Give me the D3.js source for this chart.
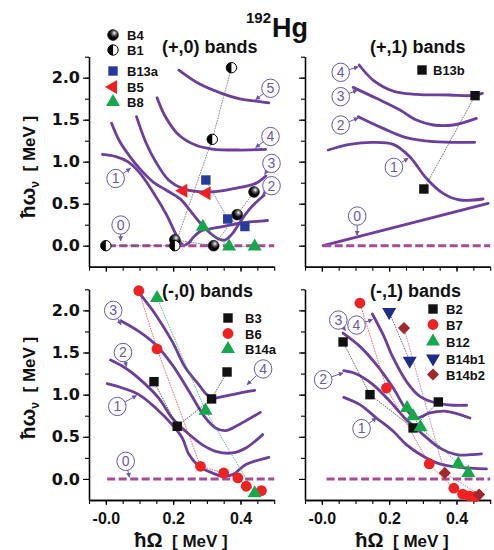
<!DOCTYPE html>
<html>
<head>
<meta charset="utf-8">
<script src="https://cdn.jsdelivr.net/npm/d3@7"></script>
<style>
  body { margin: 0; background: #fff; }
  svg { display: block; font-family: "Liberation Sans", Arial, sans-serif; }
</style>
</head>
<body>
<svg></svg>
<script>
// ---- (+,0) bands
const plus0Curve1 = [[-0.01,1.087],[0.03,1.06],[0.065,1.0],[0.10,0.87],[0.14,0.64],[0.18,0.37],[0.205,0.16],[0.22,0.05],[0.232,0.005],[0.245,0.03],[0.26,0.10],[0.28,0.17],[0.31,0.20],[0.35,0.23],[0.40,0.27],[0.45,0.29],[0.48,0.30]];
const plus0Curve2 = [[0.017,1.457],[0.04,1.25],[0.07,1.07],[0.10,0.92],[0.14,0.76],[0.18,0.66],[0.22,0.56],[0.25,0.42],[0.28,0.27],[0.31,0.15],[0.335,0.08],[0.355,0.07],[0.375,0.14],[0.40,0.29],[0.43,0.45],[0.47,0.60]];
const plus0Curve3 = [[0.091,1.536],[0.118,1.238],[0.148,1.0],[0.187,0.78],[0.227,0.683],[0.276,0.643],[0.326,0.643],[0.385,0.683],[0.445,0.742],[0.475,0.83]];
const plus0Curve4 = [[0.152,1.762],[0.177,1.536],[0.217,1.317],[0.266,1.198],[0.316,1.151],[0.395,1.139],[0.474,1.147]];
const plus0Curve5 = [[0.217,2.09],[0.276,1.93],[0.346,1.81],[0.395,1.75],[0.445,1.72],[0.484,1.70]];
const plus0Labels = [['0',0.044,0.246,0.044,0.06],['1',0.029,0.80,0.073,0.92],['2',0.492,0.714,0.466,0.61],['3',0.492,0.98,0.472,0.85],['4',0.489,1.30,0.445,1.17],['5',0.489,1.874,0.445,1.74]];
const b4 = [[0.205,0.07],[0.32,0.0],[0.39,0.37],[0.44,0.64]];
const b1 = [[0.0,0.0],[0.205,0.0],[0.316,1.266],[0.373,2.119]];
const b13a = [[0.297,0.782],[0.362,0.318],[0.413,0.228]];
const b5 = [[0.23,0.655],[0.299,0.623]];
const b8 = [[0.288,0.226],[0.366,-0.01],[0.442,-0.01]];

// ---- (+,1) bands
const plus1Curve0 = [[0.004,0.0],[0.494,0.504]];
const plus1Curve1 = [[0.019,1.139],[0.083,1.206],[0.152,1.23],[0.212,1.206],[0.261,1.06],[0.311,0.80],[0.36,0.623],[0.41,0.544],[0.479,0.556]];
const plus1Curve2 = [[0.108,1.536],[0.182,1.397],[0.251,1.286],[0.331,1.238],[0.454,1.23]];
const plus1Curve3 = [[0.093,1.885],[0.162,1.754],[0.232,1.615],[0.281,1.496],[0.331,1.437],[0.39,1.437],[0.459,1.516]];
const plus1Curve4 = [[0.111,2.151],[0.152,1.972],[0.212,1.841],[0.281,1.802],[0.38,1.794],[0.44,1.786],[0.477,1.813]];
const plus1Labels = [['0',0.105,0.353,0.105,0.125],['1',0.214,0.933,0.256,1.04],['2',0.056,1.437,0.108,1.52],['3',0.056,1.774,0.105,1.85],['4',0.056,2.064,0.108,2.13]];
const b13b = [[0.303,0.675],[0.455,1.786]];

// ---- (-,0) bands
const minus0Curve1 = [[0.004,1.13],[0.049,1.079],[0.098,1.0],[0.148,0.842],[0.197,0.644],[0.227,0.486],[0.247,0.289],[0.277,0.15],[0.316,0.071],[0.346,0.032],[0.376,0.051],[0.416,0.17],[0.484,0.257]];
const minus0Curve2 = [[0.014,1.411],[0.058,1.316],[0.108,1.158],[0.157,0.96],[0.197,0.723],[0.237,0.565],[0.286,0.407],[0.326,0.328],[0.376,0.308],[0.416,0.368],[0.466,0.526]];
const minus0Curve3 = [[0.044,1.877],[0.098,1.751],[0.148,1.593],[0.197,1.356],[0.247,1.04],[0.296,0.723],[0.326,0.605],[0.355,0.573],[0.395,0.644],[0.459,0.79]];
const minus0Curve4 = [[0.103,2.186],[0.148,1.949],[0.197,1.632],[0.237,1.316],[0.276,1.12],[0.30,1.0],[0.32,0.96],[0.35,0.98],[0.40,1.02],[0.442,1.05]];
const minus0Labels = [['0',0.059,0.209,0.07,0.02],['1',0.034,0.86,0.091,0.99],['2',0.051,1.50,0.061,1.336],['3',0.022,2.0,0.045,1.83],['4',0.467,1.305,0.42,1.12]];
const b3 = [[0.143,1.154],[0.212,0.625],[0.314,0.949],[0.36,1.269]];
const b6 = [[0.098,2.233],[0.152,1.542],[0.281,0.15],[0.35,0.071],[0.392,0.012],[0.417,-0.087],[0.462,-0.138]];
const b14a = [[0.152,2.146],[0.296,0.81],[0.442,-0.17]];

// ---- (-,1) bands
const minus1Curve1 = [[0.065,0.968],[0.113,0.881],[0.162,0.723],[0.212,0.565],[0.251,0.407],[0.301,0.269],[0.35,0.178],[0.41,0.138],[0.489,0.119]];
const minus1Curve2 = [[0.065,1.285],[0.103,1.245],[0.152,1.119],[0.202,0.921],[0.251,0.704],[0.301,0.526],[0.35,0.368],[0.40,0.289],[0.474,0.296]];
const minus1Curve3 = [[0.063,1.731],[0.113,1.573],[0.162,1.356],[0.212,1.079],[0.251,0.822],[0.281,0.723],[0.321,0.783],[0.37,0.802],[0.44,0.723]];
const minus1Curve4 = [[0.15,1.957],[0.182,1.711],[0.212,1.435],[0.251,1.158],[0.291,0.98],[0.34,0.901],[0.39,0.874],[0.43,0.874]];
const minus1Labels = [['1',0.118,0.597,0.162,0.723],['2',0.004,1.178,0.063,1.257],['3',0.049,1.885,0.07,1.76],['4',0.103,1.826,0.15,1.89]];
const b2 = [[0.063,1.625],[0.143,1.0],[0.271,0.605],[0.346,0.913]];
const b7 = [[0.113,2.087],[0.192,1.079],[0.319,0.178],[0.392,-0.11],[0.418,-0.18],[0.437,-0.2],[0.455,-0.21]];
const b12 = [[0.253,0.842],[0.271,0.743],[0.293,0.613],[0.405,0.178],[0.435,0.071]];
const b14b1 = [[0.2,1.98],[0.261,1.403]];
const b14b2 = [[0.244,1.79],[0.365,0.071],[0.467,-0.186]];

// ---- axes
const xDomain = [-0.05, 0.5];
const yDomain = [-0.25, 2.25];
const xMinorTicks = [-0.05,0,0.05,0.1,0.15,0.2,0.25,0.3,0.35,0.4,0.45,0.5];
const xMajorTicks = [0, 0.2, 0.4];
const xMajorText = ['-0.0', '0.2', '0.4'];
const yMinorTicks = [0,0.25,0.5,0.75,1,1.25,1.5,1.75,2,2.25];
const yMajorTicks = [0, 0.5, 1, 1.5, 2];
const yMajorText = ['0.0', '0.5', '1.0', '1.5', '2.0'];

const curveColor = '#6c3e9e';
const zeroColor = '#a64b96';
const labelColor = '#6a58b0';

const styles = {
    B4:    { shape: 'ball',    fill: '#000',    line: '#555' },
    B1:    { shape: 'half',    fill: '#000',    line: '#555' },
    B13a:  { shape: 'square',  fill: '#27399b', line: '#27399b' },
    B5:    { shape: 'triLeft', fill: '#ee2020', line: '#ee2020' },
    B8:    { shape: 'triUp',   fill: '#16a84a', line: '#16a84a' },
    B13b:  { shape: 'square',  fill: '#111',    line: '#333' },
    B3:    { shape: 'square',  fill: '#111',    line: '#222' },
    B6:    { shape: 'circle',  fill: '#ee2222', line: '#ee2222' },
    B14a:  { shape: 'triUp',   fill: '#16a84a', line: '#16a84a' },
    B2:    { shape: 'square',  fill: '#111',    line: '#222' },
    B7:    { shape: 'circle',  fill: '#ee2222', line: '#ee2222' },
    B12:   { shape: 'triUp',   fill: '#16a84a', line: '#16a84a' },
    B14b1: { shape: 'triDown', fill: '#1f2c8c', line: '#1f2c8c' },
    B14b2: { shape: 'diamond', fill: '#a2282c', line: '#b04a9a' }
};

const panels = [
    { title: '(+,0) bands', tx: 162, ty: 52.5, left: 89, top: 56.7, bottom: 266.7, xText: false, yText: true,
      curves: [plus0Curve1, plus0Curve2, plus0Curve3, plus0Curve4, plus0Curve5], labels: plus0Labels, zeroFrom: 0.006,
      series: [['B4', b4], ['B1', b1], ['B13a', b13a], ['B5', b5], ['B8', b8]],
      legend: { x: 113, tx: 127, ys: [35, 50, 71, 87, 102] } },
    { title: '(+,1) bands', tx: 370, ty: 53, left: 305, top: 56.7, bottom: 266.7, xText: false, yText: false,
      curves: [plus1Curve0, plus1Curve1, plus1Curve2, plus1Curve3, plus1Curve4], labels: plus1Labels, zeroFrom: 0.004,
      series: [['B13b', b13b]],
      legend: { x: 422, tx: 433, ys: [70] } },
    { title: '(-,0) bands', tx: 162, ty: 297, left: 89, top: 289.3, bottom: 500, xText: true, yText: true,
      curves: [minus0Curve1, minus0Curve2, minus0Curve3, minus0Curve4], labels: minus0Labels, zeroFrom: 0.004,
      series: [['B3', b3], ['B6', b6], ['B14a', b14a]],
      legend: { x: 228, tx: 245, ys: [318, 333.5, 349] } },
    { title: '(-,1) bands', tx: 370, ty: 297, left: 305, top: 289.3, bottom: 500, xText: true, yText: false,
      curves: [minus1Curve1, minus1Curve2, minus1Curve3, minus1Curve4], labels: minus1Labels, zeroFrom: 0.014,
      series: [['B2', b2], ['B7', b7], ['B12', b12], ['B14b1', b14b1], ['B14b2', b14b2]],
      legend: { x: 433, tx: 446, ys: [309, 324.5, 341.5, 358.5, 374.5] } }
];

const svg = d3.select('svg').attr('width', 494).attr('height', 550);

const defs = svg.append('defs');
const grad = defs.append('radialGradient').attr('id', 'ball')
    .attr('cx', '62%').attr('cy', '32%').attr('r', '70%');
grad.append('stop').attr('offset', '0%').attr('stop-color', '#fff');
grad.append('stop').attr('offset', '25%').attr('stop-color', '#777');
grad.append('stop').attr('offset', '60%').attr('stop-color', '#000');
defs.append('marker').attr('id', 'arr')
    .attr('viewBox', '0 0 8 8').attr('refX', 7).attr('refY', 4)
    .attr('markerWidth', 5).attr('markerHeight', 5).attr('orient', 'auto')
    .append('path').attr('d', 'M0,0L8,4L0,8z').attr('fill', labelColor);

const drawMarker = (g, name, cx, cy) => {
    const st = styles[name];
    const sym = (type, size, rot) => g.append('path')
        .attr('d', d3.symbol(type, size)())
        .attr('transform', `translate(${cx},${cy}) rotate(${rot})`)
        .attr('fill', st.fill);
    switch (st.shape) {
        case 'ball':
            g.append('circle').attr('cx', cx).attr('cy', cy).attr('r', 5.4)
                .attr('fill', 'url(#ball)').attr('stroke', '#000').attr('stroke-width', 0.6);
            break;
        case 'half':
            g.append('circle').attr('cx', cx).attr('cy', cy).attr('r', 5.2)
                .attr('fill', '#fff').attr('stroke', '#000').attr('stroke-width', 1);
            g.append('path').attr('d', `M${cx},${cy - 5.2}A5.2,5.2 0 0 0 ${cx},${cy + 5.2}Z`).attr('fill', '#000');
            break;
        case 'square':
            g.append('rect').attr('x', cx - 4.7).attr('y', cy - 4.7).attr('width', 9.4).attr('height', 9.4).attr('fill', st.fill);
            break;
        case 'circle':
            g.append('circle').attr('cx', cx).attr('cy', cy).attr('r', 5.4).attr('fill', st.fill);
            break;
        case 'triUp': sym(d3.symbolTriangle, 85, 0); break;
        case 'triDown': sym(d3.symbolTriangle, 85, 180); break;
        case 'triLeft': sym(d3.symbolTriangle, 85, -90); break;
        case 'diamond': sym(d3.symbolSquare, 74, 45); break;
    }
};

const drawPanel = (p) => {
    const x = d3.scaleLinear().domain(xDomain).range([p.left, p.left + 185.2]);
    const y = d3.scaleLinear().domain(yDomain).range([p.bottom, p.top]);
    const g = svg.append('g');

    // axes
    const styleAxis = (a, family) => {
        a.select('.domain').attr('stroke', '#000').attr('stroke-width', 1.3);
        a.selectAll('.tick line').attr('stroke', '#000').attr('stroke-width', 1.1);
        a.selectAll('text').attr('font-family', family)
            .attr('font-size', 16).attr('font-weight', 'bold').attr('fill', '#111');
    };
    g.append('g').attr('transform', `translate(${p.left},0)`)
        .call(d3.axisLeft(y).tickValues(yMinorTicks).tickFormat('').tickSize(4).tickSizeOuter(0))
        .call(styleAxis, 'DejaVu Sans');
    g.append('g').attr('transform', `translate(${p.left},0)`)
        .call(d3.axisLeft(y).tickValues(yMajorTicks).tickSize(6).tickSizeOuter(0).tickPadding(3)
            .tickFormat((d, i) => p.yText ? yMajorText[i] : ''))
        .call(styleAxis, '"DejaVu Sans", sans-serif');
    g.append('g').attr('transform', `translate(0,${p.bottom})`)
        .call(d3.axisBottom(x).tickValues(xMinorTicks).tickFormat('').tickSize(4).tickSizeOuter(0))
        .call(styleAxis, 'Liberation Sans');
    g.append('g').attr('transform', `translate(0,${p.bottom})`)
        .call(d3.axisBottom(x).tickValues(xMajorTicks).tickSize(5).tickSizeOuter(0).tickPadding(8)
            .tickFormat((d, i) => p.xText ? xMajorText[i] : ''))
        .call(styleAxis, '"Liberation Sans", Arial, sans-serif');

    // curves
    const line = d3.line().x(d => x(d[0])).y(d => y(d[1]));
    const smooth = d3.line().x(d => x(d[0])).y(d => y(d[1])).curve(d3.curveCatmullRom.alpha(0.5));
    g.selectAll('.band').data(p.curves).enter().append('path')
        .attr('d', d => smooth(d))
        .attr('fill', 'none').attr('stroke', curveColor).attr('stroke-width', 2.8)
        .attr('stroke-linecap', 'round').attr('stroke-linejoin', 'round');

    // zero reference
    g.append('line').attr('x1', x(p.zeroFrom)).attr('x2', x(0.5)).attr('y1', y(0)).attr('y2', y(0))
        .attr('stroke', zeroColor).attr('stroke-width', 3).attr('stroke-dasharray', '8,3.5');

    // experimental points
    p.series.forEach(([name, pts]) => {
        g.append('path').attr('d', line(pts)).attr('fill', 'none')
            .attr('stroke', styles[name].line).attr('stroke-width', 0.7).attr('stroke-dasharray', '1.6,1');
    });
    p.series.forEach(([name, pts]) => {
        pts.forEach(d => drawMarker(g, name, x(d[0]), y(d[1])));
    });

    // curve labels
    p.labels.forEach(([t, lx, ly, ax, ay]) => {
        const cx = x(lx), cy = y(ly), tx = x(ax), ty = y(ay);
        const dx = tx - cx, dy = ty - cy, len = Math.hypot(dx, dy);
        g.append('line')
            .attr('x1', cx + dx / len * 9).attr('y1', cy + dy / len * 9)
            .attr('x2', tx).attr('y2', ty)
            .attr('stroke', labelColor).attr('stroke-width', 1).attr('marker-end', 'url(#arr)');
        g.append('ellipse').attr('cx', cx).attr('cy', cy).attr('rx', 8.8).attr('ry', 9.2)
            .attr('fill', '#fff').attr('stroke', labelColor).attr('stroke-width', 1);
        g.append('text').attr('x', cx).attr('y', cy + 4.8).attr('text-anchor', 'middle')
            .attr('font-family', '"Liberation Sans Narrow", "Liberation Sans", sans-serif')
            .attr('font-size', 14).attr('fill', labelColor).text(t);
    });

    // panel title
    g.append('text').attr('x', p.tx).attr('y', p.ty).attr('font-size', 18).attr('font-weight', 'bold')
        .attr('fill', '#111').text(p.title);

    // legend
    p.series.forEach(([name], i) => {
        drawMarker(g, name, p.legend.x, p.legend.ys[i]);
        g.append('text').attr('x', p.legend.tx).attr('y', p.legend.ys[i] + 5)
            .attr('font-size', 13).attr('font-weight', 'bold').attr('fill', '#111').text(name);
    });
};

panels.forEach(drawPanel);

// element title
const title = svg.append('text').attr('font-weight', 'bold').attr('fill', '#111');
title.append('tspan').attr('x', 246).attr('y', 23).attr('font-size', 15).text('192');
title.append('tspan').attr('x', 272).attr('y', 37).attr('font-size', 27).text('Hg');

// axis titles
[167, 388].forEach(cy => {
    const t = svg.append('text').attr('transform', `translate(35,${cy}) rotate(-90)`)
        .attr('text-anchor', 'middle').attr('font-weight', 'bold').attr('fill', '#111');
    t.append('tspan').attr('font-size', 21).text('ħω');
    t.append('tspan').attr('font-size', 12).attr('dy', 4).text('ν');
    t.append('tspan').attr('font-size', 17).attr('dy', -4).text('\u00a0 [ MeV ]');
});
[181, 402].forEach(cx => {
    const t = svg.append('text').attr('x', cx).attr('y', 547).attr('text-anchor', 'middle')
        .attr('font-weight', 'bold').attr('fill', '#111');
    t.append('tspan').attr('font-size', 20).text('ħΩ');
    t.append('tspan').attr('font-size', 17).text('\u00a0 [ MeV ]');
});
</script>
</body>
</html>
